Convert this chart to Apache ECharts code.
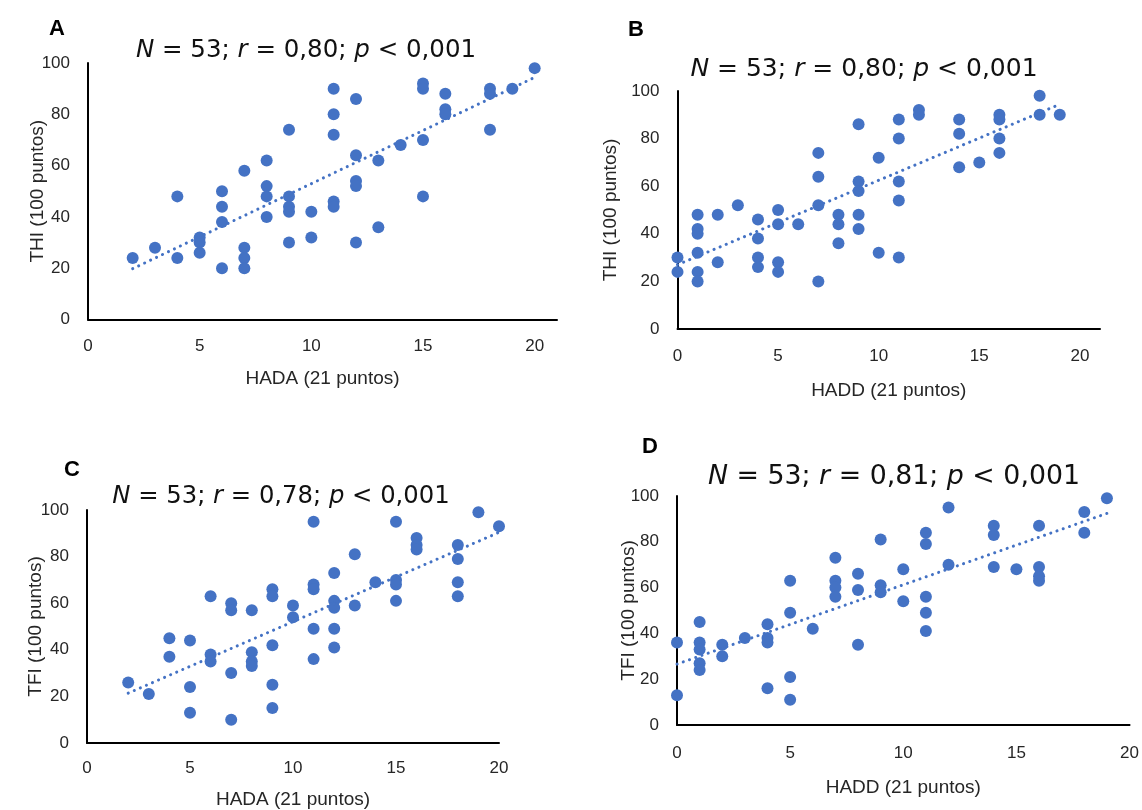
<!DOCTYPE html>
<html>
<head>
<meta charset="utf-8">
<script src="https://cdn.jsdelivr.net/npm/echarts@6/dist/echarts.min.js"></script>
<style>
  html, body { margin: 0; padding: 0; background: #fff; }
  #chart { width: 1142px; height: 810px; }
</style>
</head>
<body>
<div id="chart"></div>
<script>
  // Datos (A: HADA vs THI, B: HADD vs THI, C: HADA vs TFI, D: HADD vs TFI)
  const hadaA = [2, 3, 4, 4, 5, 5, 5, 6, 6, 6, 6, 7, 7, 7, 7, 8, 8, 8, 8, 9, 9, 9, 9, 9, 10, 10,
    11, 11, 11, 11, 11, 12, 12, 12, 12, 12, 13, 13, 14, 15, 15, 15, 15, 16, 16, 16, 18, 18, 18, 19, 20];
  const thiA = [24, 28, 48, 24, 32, 30, 26, 50, 44, 38, 20, 58, 28, 24, 20, 62, 52, 48, 40, 74, 48, 44, 42, 30, 42, 32,
    90, 80, 72, 46, 44, 86, 64, 54, 52, 30, 62, 36, 68, 92, 90, 70, 48, 88, 82, 80, 90, 88, 74, 90, 98];

  const haddB = [0, 0, 1, 1, 1, 1, 1, 1, 2, 2, 3, 4, 4, 4, 4, 5, 5, 5, 5, 6, 7, 7, 7, 7, 8, 8, 8,
    9, 9, 9, 9, 9, 10, 10, 11, 11, 11, 11, 11, 12, 12, 14, 14, 14, 15, 16, 16, 16, 16, 18, 18, 19];
  const thiB = [30, 24, 48, 42, 40, 32, 24, 20, 48, 28, 52, 46, 38, 30, 26, 50, 44, 28, 24, 44, 74, 64, 52, 20, 48, 44, 36,
    86, 62, 58, 48, 42, 72, 32, 88, 80, 62, 54, 30, 92, 90, 88, 82, 68, 70, 90, 88, 80, 74, 98, 90, 90];

  const hadaC = [2, 3, 4, 4, 5, 5, 5, 6, 6, 6, 7, 7, 7, 7, 8, 8, 8, 8, 9, 9, 9, 9, 9, 10, 10,
    11, 11, 11, 11, 11, 12, 12, 12, 12, 12, 13, 13, 14, 15, 15, 15, 15, 16, 16, 16, 18, 18, 18, 18, 19, 20];
  const tfiC = [26, 21, 45, 37, 44, 24, 13, 63, 38, 35, 60, 57, 30, 10, 57, 39, 35, 33, 66, 63, 42, 25, 15, 59, 54,
    95, 68, 66, 49, 36, 73, 61, 58, 49, 41, 81, 59, 69, 95, 70, 68, 61, 88, 85, 83, 85, 79, 69, 63, 99, 93];

  const haddD = [0, 0, 1, 1, 1, 1, 1, 2, 2, 3, 4, 4, 4, 4, 5, 5, 5, 5, 6, 7, 7, 7, 7, 8, 8, 8,
    9, 9, 9, 10, 10, 11, 11, 11, 11, 11, 12, 12, 14, 14, 14, 15, 16, 16, 16, 16, 18, 18, 19];
  const tfiD = [36, 13, 45, 36, 33, 27, 24, 35, 30, 38, 44, 38, 36, 16, 63, 49, 21, 11, 42, 73, 63, 60, 56, 66, 59, 35,
    81, 61, 58, 68, 54, 84, 79, 56, 49, 41, 95, 70, 87, 83, 69, 68, 87, 69, 65, 63, 93, 84, 99];

  // Extremos de las líneas de tendencia
  const trendA = [[2, 19.8], [20, 94.4]];
  const trendB = [[0, 27], [19, 94.4]];
  const trendC = [[2, 21.4], [20, 90.4]];
  const trendD = [[0, 26.6], [19, 92.4]];

  const xTicks = [0, 5, 10, 15, 20];
  const yTicks = [0, 20, 40, 60, 80, 100];

  const blue = '#4472C4';
  const txt = '#262626';
  const labelFont = 'Liberation Sans';

  function zip(xs, ys) {
    return xs.map((x, i) => [x, ys[i]]);
  }

  const panels = [
    { letter: 'A', stat: '{i|N} = 53; {i|r} = 0,80; {i|p} < 0,001', xs: hadaA, ys: thiA, trend: trendA,
      xName: 'HADA (21 puntos)', yName: 'THI (100 puntos)', xMax: 21,
      grid: { left: 88, top: 63, width: 469, height: 256.5 },
      letterPos: [57, 29], statPos: [306, 50.5], statSize: 24.5,
      xGap: 50, yGap: 41, xMargin: 18 },
    { letter: 'B', stat: '{i|N} = 53; {i|r} = 0,80; {i|p} < 0,001', xs: haddB, ys: thiB, trend: trendB,
      xName: 'HADD (21 puntos)', yName: 'THI (100 puntos)', xMax: 21,
      grid: { left: 677.5, top: 91, width: 422.5, height: 238 },
      letterPos: [636, 30], statPos: [864, 69.5], statSize: 25,
      xGap: 52, yGap: 57, xMargin: 19 },
    { letter: 'C', stat: '{i|N} = 53; {i|r} = 0,78; {i|p} < 0,001', xs: hadaC, ys: tfiC, trend: trendC,
      xName: 'HADA (21 puntos)', yName: 'TFI (100 puntos)', xMax: 20,
      grid: { left: 87, top: 510, width: 412, height: 233.3 },
      letterPos: [72, 470], statPos: [281, 496.5], statSize: 24.3,
      xGap: 47, yGap: 42, xMargin: 17 },
    { letter: 'D', stat: '{i|N} = 53; {i|r} = 0,81; {i|p} < 0,001', xs: haddD, ys: tfiD, trend: trendD,
      xName: 'HADD (21 puntos)', yName: 'TFI (100 puntos)', xMax: 20,
      grid: { left: 677, top: 496, width: 453, height: 229 },
      letterPos: [650, 447], statPos: [894, 477.5], statSize: 26.8,
      xGap: 53, yGap: 39, xMargin: 20 }
  ];

  const chart = echarts.init(document.getElementById('chart'));

  const option = {
    animation: false,
    backgroundColor: '#fff',
    title: [],
    grid: [],
    xAxis: [],
    yAxis: [],
    series: []
  };

  panels.forEach((p, i) => {
    option.grid.push(p.grid);

    // letra del panel
    option.title.push({
      text: p.letter,
      left: p.letterPos[0],
      top: p.letterPos[1] - 13,
      textAlign: 'center',
      padding: 0,
      textStyle: { fontFamily: labelFont, fontSize: 22, fontWeight: 'bold', color: '#000', lineHeight: 26 }
    });
    // estadísticos
    option.title.push({
      text: p.stat,
      left: p.statPos[0],
      top: p.statPos[1] - 15,
      textAlign: 'center',
      padding: 0,
      textStyle: {
        fontFamily: 'DejaVu Sans', fontSize: p.statSize, fontWeight: 'normal', color: '#111', lineHeight: 30,
        rich: { i: { fontFamily: 'DejaVu Sans', fontSize: p.statSize, fontStyle: 'italic', color: '#111', lineHeight: 30 } }
      }
    });

    option.xAxis.push({
      type: 'value',
      gridIndex: i,
      min: 0,
      max: p.xMax,
      interval: xTicks[1] - xTicks[0],
      name: p.xName,
      nameLocation: 'middle',
      nameGap: p.xGap,
      nameMoveOverlap: false,
      nameTextStyle: { fontFamily: labelFont, fontSize: 19, color: txt },
      axisLine: { show: true, lineStyle: { color: '#000', width: 2 } },
      axisTick: { show: false },
      splitLine: { show: false },
      axisLabel: {
        margin: p.xMargin,
        fontFamily: labelFont, fontSize: 17, color: txt,
        showMaxLabel: p.xMax === 20,
        formatter: v => (xTicks.includes(v) ? String(v) : '')
      }
    });

    option.yAxis.push({
      type: 'value',
      gridIndex: i,
      min: 0,
      max: 100,
      interval: yTicks[1] - yTicks[0],
      name: p.yName,
      nameLocation: 'middle',
      nameGap: p.yGap,
      nameRotate: 90,
      nameMoveOverlap: false,
      nameTextStyle: { fontFamily: labelFont, fontSize: 19, color: txt },
      axisLine: { show: true, lineStyle: { color: '#000', width: 2 } },
      axisTick: { show: false },
      splitLine: { show: false },
      axisLabel: { margin: 18, fontFamily: labelFont, fontSize: 17, color: txt }
    });

    option.series.push({
      type: 'scatter',
      xAxisIndex: i,
      yAxisIndex: i,
      data: zip(p.xs, p.ys),
      symbolSize: 12,
      itemStyle: { color: blue, opacity: 1 },
      z: 2
    });

    option.series.push({
      type: 'line',
      xAxisIndex: i,
      yAxisIndex: i,
      data: p.trend,
      showSymbol: false,
      symbol: 'none',
      silent: true,
      lineStyle: { color: blue, width: 3, type: [0.1, 6.5], cap: 'round' },
      z: 3
    });
  });

  chart.setOption(option);
  window.addEventListener('resize', () => chart.resize());
</script>
</body>
</html>
